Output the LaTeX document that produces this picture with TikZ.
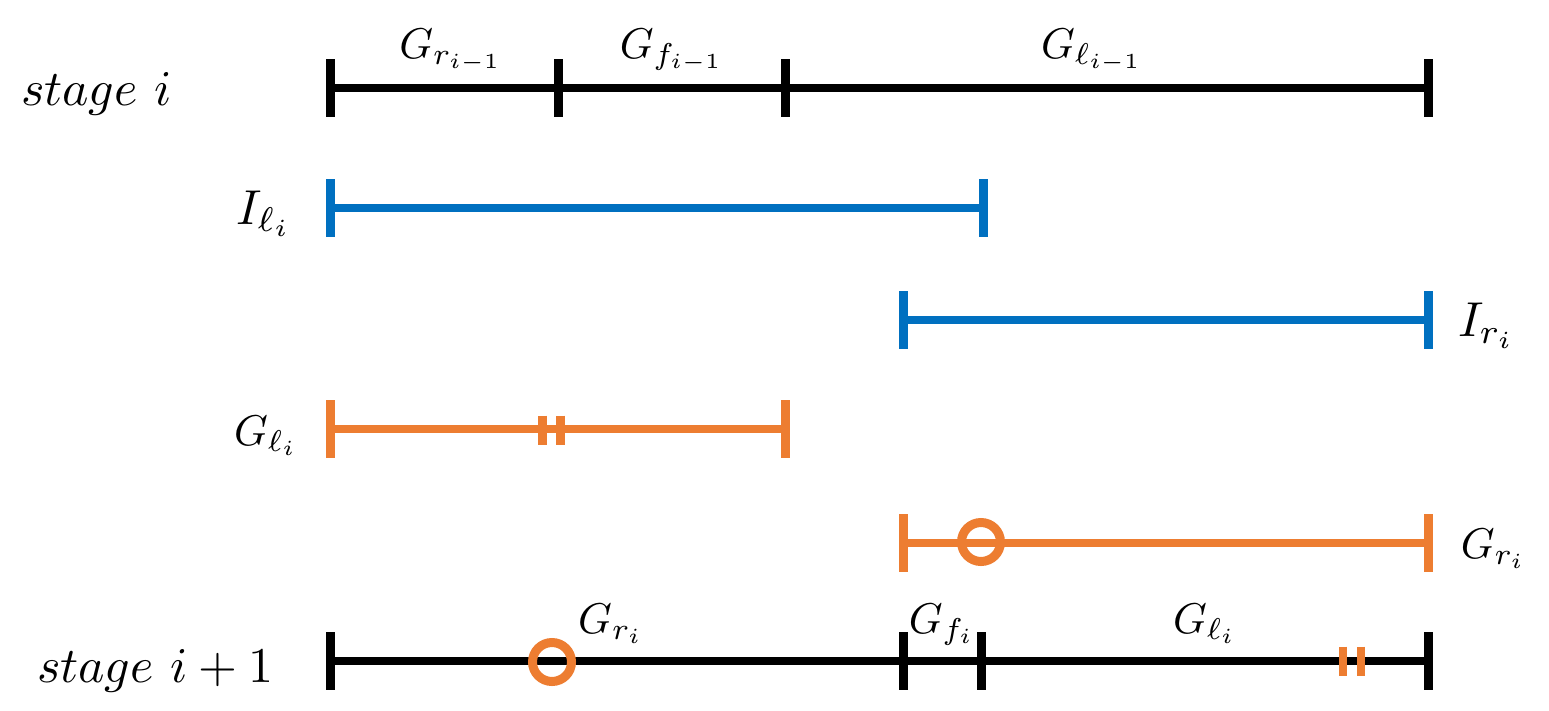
\documentclass[tikz,border=0pt]{standalone}
\definecolor{iblue}{HTML}{0070C0}
\definecolor{gorange}{HTML}{ED7D31}
\tikzset{
  seg/.style={line width=8pt},
  tickmark/.style={line width=9pt},
  dbltick/.style={line width=8.5pt},
  ring/.style={line width=9pt, draw=gorange},
  stagelbl/.style={scale=5, inner sep=0pt},
  glbl/.style={scale=4.3, inner sep=0pt},
  ilbl/.style={scale=4.9, inner sep=0pt}
}
\begin{document}
\begin{tikzpicture}[x=1pt,y=-1pt]
\useasboundingbox (0,0) rectangle (1549,710);
% ---- row 1: stage i
\coordinate (s1) at (330,88);
\coordinate (s2) at (558,88);
\coordinate (s3) at (785,88);
\coordinate (s4) at (1428,88);
\draw[seg] (s1) -- (s4);
\foreach \c in {s1,s2,s3,s4} \draw[tickmark] ([yshift=29pt]\c) -- ([yshift=-29pt]\c);
\node[stagelbl, anchor=base west] (st1) at (20,105) {$stage~i$};
\node[glbl, anchor=base] (g1) at (451,58) {$G_{r_{i-1}}$};
\node[glbl, anchor=base] (g2) at (672,58) {$G_{f_{i-1}}$};
\node[glbl, anchor=base] (g3) at (1092,58) {$G_{\ell_{i-1}}$};
% ---- row 2: I_l
\coordinate (b1) at (330,208);
\coordinate (b2) at (983,208);
\draw[seg, iblue] (b1) -- (b2);
\foreach \c in {b1,b2} \draw[tickmark, iblue] ([yshift=29pt]\c) -- ([yshift=-29pt]\c);
\node[ilbl, anchor=base east] (il) at (293,224) {$I_{\ell_i}$};
% ---- row 3: I_r
\coordinate (c1) at (903,320);
\coordinate (c2) at (1428,320);
\draw[seg, iblue] (c1) -- (c2);
\foreach \c in {c1,c2} \draw[tickmark, iblue] ([yshift=29pt]\c) -- ([yshift=-29pt]\c);
\node[ilbl, anchor=base west] (ir) at (1457,336) {$I_{r_i}$};
% ---- row 4: G_l
\coordinate (d1) at (330,429);
\coordinate (d2) at (785,429);
\coordinate (dm1) at (542.5,430);
\coordinate (dm2) at (560.5,430);
\draw[seg, gorange] (d1) -- (d2);
\foreach \c in {d1,d2} \draw[tickmark, gorange] ([yshift=29pt]\c) -- ([yshift=-29pt]\c);
\foreach \c in {dm1,dm2} \draw[dbltick, gorange] ([yshift=14.5pt]\c) -- ([yshift=-14.5pt]\c);
\node[glbl, anchor=base east] (gl) at (299,445) {$G_{\ell_i}$};
% ---- row 5: G_r
\coordinate (e1) at (903,543);
\coordinate (e2) at (1428,543);
\coordinate (em) at (981,542);
\draw[seg, gorange] (e1) -- (e2);
\foreach \c in {e1,e2} \draw[tickmark, gorange] ([yshift=29pt]\c) -- ([yshift=-29pt]\c);
\draw[ring] (em) circle [radius=19.5];
\node[glbl, anchor=base west] (gr) at (1460,558) {$G_{r_i}$};
% ---- row 6: stage i+1
\coordinate (f1) at (330,661);
\coordinate (f2) at (903,661);
\coordinate (f3) at (981,661);
\coordinate (f4) at (1428,661);
\coordinate (fc) at (552,662);
\coordinate (fm1) at (1343,661);
\coordinate (fm2) at (1361,661);
\draw[seg] (f1) -- (f4);
\foreach \c in {f1,f2,f3,f4} \draw[tickmark] ([yshift=29pt]\c) -- ([yshift=-29pt]\c);
\foreach \c in {fm1,fm2} \draw[dbltick, gorange] ([yshift=14.5pt]\c) -- ([yshift=-14.5pt]\c);
\draw[ring] (fc) circle [radius=19.5];
\node[stagelbl, anchor=base west] (st2) at (36,682) {$stage~i+1$};
\node[glbl, anchor=base] (h1) at (611,633) {$G_{r_i}$};
\node[glbl, anchor=base] (h2) at (942,633) {$G_{f_i}$};
\node[glbl, anchor=base] (h3) at (1205,633) {$G_{\ell_i}$};
\end{tikzpicture}
\end{document}
